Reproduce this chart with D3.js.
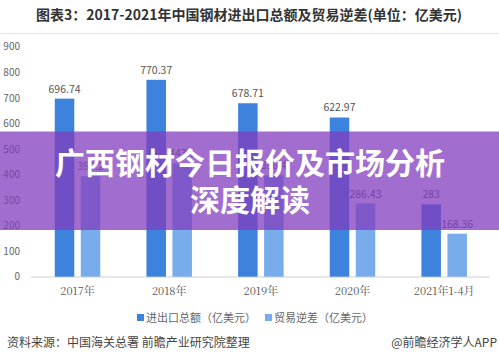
<!DOCTYPE html>
<html><head><meta charset="utf-8">
<script src="https://cdn.jsdelivr.net/npm/d3@7"></script>
<style>body{margin:0;background:#fff}svg{display:block}</style>
</head><body><svg id="c" width="499" height="363"></svg>
<script>
const categories = ["2017年","2018年","2019年","2020年","2021年1-4月"];
const totalTrade = [696.74, 770.37, 678.71, 622.97, 283];
const tradeDeficit = [393.2, 443.1, 396.4, 286.43, 168.36];
const deficitLabels = ["393.2","443.1","396.4","286.43","168.36"];
const totalLabels = ["696.74","770.37","678.71","622.97","283"];
const yTicks = [0,100,200,300,400,500,600,700,800,900];
const seriesNames = ["进出口总额（亿美元）","贸易逆差（亿美元）"];
const colors = ["#3d82dc","#78aceb"];

const svg = d3.select("#c");
const font = "'Noto Sans CJK SC','Noto Sans',sans-serif";

svg.append("text").attr("x",249).attr("y",20).attr("text-anchor","middle")
  .attr("font-family",font).attr("font-weight","bold").attr("font-size",14).attr("fill","#333")
  .text("图表3：2017-2021年中国钢材进出口总额及贸易逆差(单位：亿美元)");
svg.append("line").attr("x1",0).attr("x2",499).attr("y1",33.5).attr("y2",33.5).attr("stroke","#e4e4e4");

const x = d3.scaleBand().domain(categories).range([31.7,490]);
const y = d3.scaleLinear().domain([0,900]).range([276.7,46.7]);

const yAxis = svg.append("g").attr("transform","translate(24,0)")
  .call(d3.axisLeft(y).tickValues(yTicks).tickSize(0).tickPadding(4));
yAxis.select(".domain").remove();
yAxis.selectAll("text").attr("font-family",font).attr("font-size",10).attr("fill","#666");

svg.append("line").attr("x1",31).attr("x2",490).attr("y1",277).attr("y2",277).attr("stroke","#d0d0d0");

const xAxis = svg.append("g").attr("transform","translate(0,277)")
  .call(d3.axisBottom(x).tickSize(0).tickPadding(10));
xAxis.select(".domain").remove();
xAxis.selectAll("text").attr("font-family","'Noto Serif CJK SC','DejaVu Serif',serif").attr("font-size",11).attr("fill","#555");

const bw = 19.5, off = 13;
const series = [totalTrade, tradeDeficit];
const labels = [totalLabels, deficitLabels];
series.forEach((vals, si) => {
  const cx = c => x(c) + x.bandwidth()/2 + (si===0 ? -off : off);
  svg.append("g").selectAll("rect").data(categories).join("rect")
    .attr("x", c => cx(c) - bw/2).attr("width", bw)
    .attr("y", (c,i) => y(vals[i])).attr("height", (c,i) => y(0) - y(vals[i]))
    .attr("fill", colors[si]);
  svg.append("g").selectAll("text").data(categories).join("text")
    .attr("x", c => cx(c)).attr("y", (c,i) => y(vals[i]) - 6)
    .attr("text-anchor","middle").attr("font-family",font).attr("font-size",10.5).attr("fill","#555")
    .text((c,i) => labels[si][i]);
});

// legend
const lg = [[137,seriesNames[0]],[265,seriesNames[1]]];
lg.forEach(([lx,t],i) => {
  svg.append("rect").attr("x",lx).attr("y",314).attr("width",7).attr("height",7).attr("fill",colors[i]);
  svg.append("text").attr("x",lx+9).attr("y",321.5).attr("font-family",font).attr("font-size",11).attr("fill","#666").text(t);
});

svg.append("text").attr("x",7).attr("y",347).attr("font-family",font).attr("font-size",12).attr("fill","#444")
  .text("资料来源：中国海关总署 前瞻产业研究院整理");
svg.append("text").attr("x",497).attr("y",347).attr("text-anchor","end").attr("font-family",font).attr("font-size",12).attr("fill","#444")
  .text("@前瞻经济学人APP");

// overlay banner
svg.append("rect").attr("x",0).attr("y",131.5).attr("width",499).attr("height",98.5).attr("fill","rgba(130,60,190,0.75)");
svg.append("text").attr("x",250).attr("y",174).attr("text-anchor","middle").attr("font-family",font)
  .attr("font-weight","bold").attr("font-size",30).attr("fill","#fff").text("广西钢材今日报价及市场分析");
svg.append("text").attr("x",250).attr("y",211).attr("text-anchor","middle").attr("font-family",font)
  .attr("font-weight","bold").attr("font-size",30).attr("fill","#fff").text("深度解读");
</script></body></html>
